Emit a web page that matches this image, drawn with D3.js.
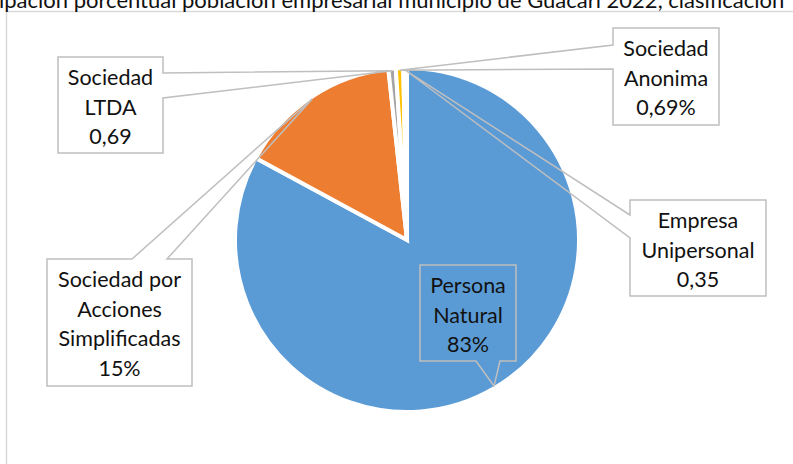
<!DOCTYPE html>
<html>
<head>
<meta charset="utf-8">
<script src="https://cdn.jsdelivr.net/npm/d3@7"></script>
<style>
  body { margin: 0; background: #fff; }
  text { font-family: Lato, "Open Sans", sans-serif; }
</style>
</head>
<body>
<svg id="pieChart"></svg>
<script>
// data
let categories = ["Persona Natural", "Sociedad por Acciones Simplificadas", "Sociedad LTDA", "Sociedad Anonima", "Empresa Unipersonal"];
let values = [82.9, 15.37, 0.69, 0.69, 0.35];
let valueLabels = ["83%", "15%", "0,69", "0,69%", "0,35"];
let nameLines = [["Persona", "Natural"], ["Sociedad por", "Acciones", "Simplificadas"], ["Sociedad", "LTDA"], ["Sociedad", "Anonima"], ["Empresa", "Unipersonal"]];
let colors = ["#5B9BD5", "#ED7D31", "#A5A5A5", "#FFC000", "#4472C4"];
let titleText = "ipación porcentual población empresarial municipio de Guacari 2022, clasificación";

//pie chart: config
function getPieConfig(){
    let width = 793;
    let height = 464;
    let cx = 407, cy = 240, radius = 172;
    let container = d3.select('#pieChart')
        .attr('width', width)
        .attr('height', height)
    // callout boxes: x, y, w, h, the side of the tail and where the tail leaves that side
    let callouts = [
        {x: 420, y: 265, w: 96, h: 96, side: 'bottom', a: 476, b: 500},
        {x: 47, y: 259, w: 145, h: 127, side: 'top', a: 132, b: 167},
        {x: 58, y: 57, w: 105, h: 96, side: 'right', a: 73, b: 98},
        {x: 613, y: 28, w: 106, h: 97, side: 'left', a: 45, b: 69},
        {x: 630, y: 200, w: 136, h: 96, side: 'left', a: 215, b: 238}
    ]
    return {width, height, cx, cy, radius, container, callouts}
}

function drawFrame(config){
    let {container} = config;
    container.append('rect')
        .attr('x', 6.5).attr('y', 11.5)
        .attr('width', 900).attr('height', 600)
        .attr('fill', 'none')
        .attr('stroke', '#D9D9D9')
        .attr('stroke-width', 1.5)
    //the title is cut by the top of the picture, as in the source
    container.append('text')
        .attr('x', -1).attr('y', 8)
        .attr('font-size', 22)
        .attr('fill', '#111')
        .text(titleText)
}

function drawSlices(arcs, config){
    let {container, cx, cy, radius} = config;
    let arc = d3.arc().innerRadius(0).outerRadius(radius);
    container.append('g')
        .attr('transform', `translate(${cx},${cy})`)
        .selectAll('path')
        .data(arcs)
        .enter().append('path')
        .attr('d', arc)
        .attr('fill', (d, i) => colors[i])
        .attr('stroke', '#fff')
        .attr('stroke-width', 4)
}

//tail end sits on the rim, in the middle of the slice
function calloutPath(c, tip){
    let x0 = c.x, y0 = c.y, x1 = c.x + c.w, y1 = c.y + c.h;
    let p = d3.path();
    p.moveTo(x0, y0);
    if(c.side === 'top'){ p.lineTo(c.a, y0); p.lineTo(tip[0], tip[1]); p.lineTo(c.b, y0); }
    p.lineTo(x1, y0);
    if(c.side === 'right'){ p.lineTo(x1, c.a); p.lineTo(tip[0], tip[1]); p.lineTo(x1, c.b); }
    p.lineTo(x1, y1);
    if(c.side === 'bottom'){ p.lineTo(c.b, y1); p.lineTo(tip[0], tip[1]); p.lineTo(c.a, y1); }
    p.lineTo(x0, y1);
    if(c.side === 'left'){ p.lineTo(x0, c.b); p.lineTo(tip[0], tip[1]); p.lineTo(x0, c.a); }
    p.closePath();
    return p.toString();
}

function drawCallouts(arcs, config){
    let {container, cx, cy, callouts} = config;
    let rim = d3.arc().innerRadius(170).outerRadius(170);
    let g = container.append('g');
    arcs.forEach((d, i) => {
        let c = callouts[i];
        let pt = rim.centroid(d);
        let tip = [cx + pt[0], cy + pt[1]];
        g.append('path')
            .attr('d', calloutPath(c, tip))
            .attr('fill', 'none')
            .attr('stroke', '#BFBFBF')
            .attr('stroke-width', 1.5)
        let lines = nameLines[i].concat([valueLabels[i]]);
        g.selectAll(null)
            .data(lines)
            .enter().append('text')
            .attr('x', c.x + c.w / 2)
            .attr('y', (t, k) => c.y + 28 + k * 29.5)
            .attr('text-anchor', 'middle')
            .attr('font-size', 21.5)
            .attr('fill', '#111')
            .text(t => t)
    });
}

function drawPieChart(){
    let config = getPieConfig();
    let pie = d3.pie().sort(null).value(d => d)
    let arcs = pie(values);
    drawFrame(config);
    drawSlices(arcs, config);
    drawCallouts(arcs, config);
}

drawPieChart();
</script>
</body>
</html>
